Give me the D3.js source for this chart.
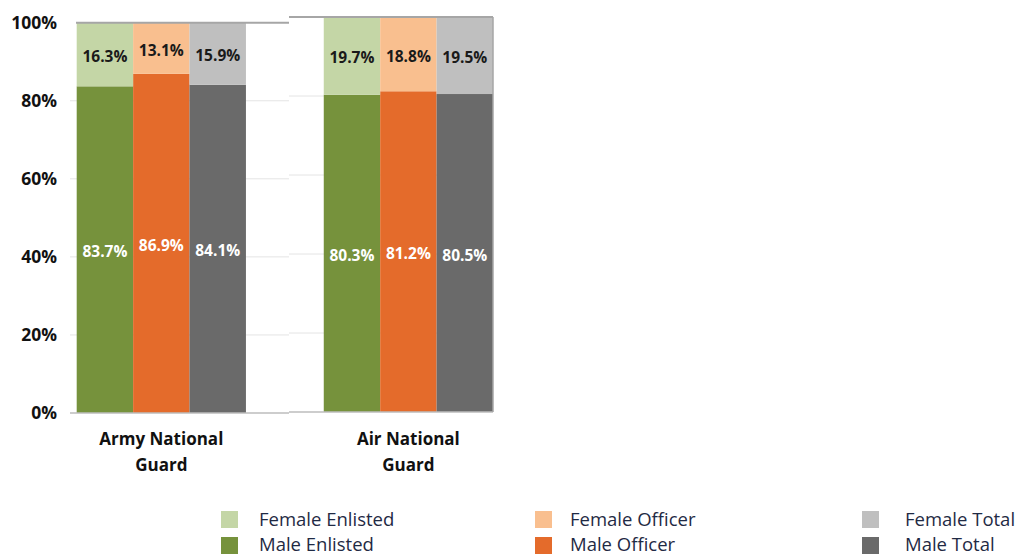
<!DOCTYPE html>
<html>
<head>
<meta charset="utf-8">
<script src="https://cdn.jsdelivr.net/npm/d3@7"></script>
<style>
  body { margin: 0; background: #fff; }
  svg { font-family: "Open Sans", Lato, sans-serif; }
</style>
</head>
<body>
<script>
const groups = ["Army National Guard", "Air National Guard"];
const series = ["Enlisted", "Officer", "Total"];
const maleValues = [[83.7, 86.9, 84.1], [80.3, 81.2, 80.5]];
const femaleValues = [[16.3, 13.1, 15.9], [19.7, 18.8, 19.5]];
const yTicks = [0, 20, 40, 60, 80, 100];
const legendItems = ["Female Enlisted", "Female Officer", "Female Total",
                     "Male Enlisted", "Male Officer", "Male Total"];

const femaleColors = ["#c4d6a6", "#f9bf8f", "#bfbfbf"];
const maleColors = ["#76923c", "#e46b2b", "#6a6a6a"];

const width = 1021, height = 557;

const svg = d3.select("body").append("svg")
    .attr("width", width)
    .attr("height", height);

// the two halves of the picture sit at slightly different heights
const panels = [
    {x0: 70, x1: 289, y0: 413, y1: 22.7},
    {x0: 289, x1: 493, y0: 412, y1: 17}
];

let x = d3.scaleBand()
    .domain(groups)
    .range([76.7, 493])
    .paddingInner(0.315)
    .paddingOuter(0);

groups.forEach((g, gi) => {
    let p = panels[gi];
    let y = d3.scaleLinear().domain([0, 100]).range([p.y0, p.y1]);
    let xs = d3.scaleBand().domain(series).range([x(g), x(g) + x.bandwidth()]);

    // gridlines
    svg.append("g").selectAll("line")
        .data(yTicks.filter(t => t > 0 && t < 100))
        .enter()
        .append("line")
        .attr("x1", p.x0).attr("x2", p.x1)
        .attr("y1", d => y(d)).attr("y2", d => y(d))
        .attr("stroke", "#e4e4e4")
        .attr("stroke-width", 1);

    // male part
    svg.append("g").selectAll("rect")
        .data(maleValues[gi])
        .enter()
        .append("rect")
        .attr("x", (d, i) => xs(series[i]))
        .attr("width", xs.bandwidth())
        .attr("y", d => y(d))
        .attr("height", d => y(0) - y(d))
        .attr("fill", (d, i) => maleColors[i]);

    // female part stacked on top
    svg.append("g").selectAll("rect")
        .data(femaleValues[gi])
        .enter()
        .append("rect")
        .attr("x", (d, i) => xs(series[i]))
        .attr("width", xs.bandwidth())
        .attr("y", (d, i) => y(maleValues[gi][i] + d))
        .attr("height", (d, i) => y(maleValues[gi][i]) - y(maleValues[gi][i] + d))
        .attr("fill", (d, i) => femaleColors[i]);

    svg.append("g").selectAll("text")
        .data(maleValues[gi])
        .enter()
        .append("text")
        .attr("x", (d, i) => xs(series[i]) + xs.bandwidth() / 2)
        .attr("y", d => (y(0) + y(d)) / 2 + 7.5)
        .attr("text-anchor", "middle")
        .attr("font-size", 15.5)
        .attr("font-weight", "bold")
        .attr("fill", "#fff")
        .text(d => d.toFixed(1) + "%");

    svg.append("g").selectAll("text")
        .data(femaleValues[gi])
        .enter()
        .append("text")
        .attr("x", (d, i) => xs(series[i]) + xs.bandwidth() / 2)
        .attr("y", (d, i) => (y(maleValues[gi][i]) + y(maleValues[gi][i] + d)) / 2 + 7.5)
        .attr("text-anchor", "middle")
        .attr("font-size", 15.5)
        .attr("font-weight", "bold")
        .attr("fill", "#1a1a1a")
        .text(d => d.toFixed(1) + "%");

    // frame: top line and baseline
    svg.append("line")
        .attr("x1", p.x0 + (gi == 0 ? 6 : 0)).attr("x2", p.x1)
        .attr("y1", y(100)).attr("y2", y(100))
        .attr("stroke", "#a6a6a6").attr("stroke-width", 2);
    svg.append("line")
        .attr("x1", p.x0).attr("x2", p.x1)
        .attr("y1", y(0)).attr("y2", y(0))
        .attr("stroke", "#bdbdbd").attr("stroke-width", 1.5);
    if (gi == 1) {
        svg.append("line")
            .attr("x1", p.x1).attr("x2", p.x1)
            .attr("y1", y(100)).attr("y2", y(0))
            .attr("stroke", "#a6a6a6").attr("stroke-width", 1.5);
    }

    // y axis only on left half
    if (gi == 0) {
        let axis = svg.append("g")
            .attr("transform", "translate(" + p.x0 + ",0)")
            .call(d3.axisLeft(y).tickValues(yTicks).tickFormat(d => d + "%").tickSize(0).tickPadding(13));
        axis.select(".domain").remove();
        axis.selectAll("text")
            .attr("font-size", 17.5)
            .attr("font-weight", "bold")
            .attr("fill", "#111")
            .attr("font-family", "'Open Sans', sans-serif");
    }
});

// category labels, two lines each
let catLines = [["Army National", "Guard"], ["Air National", "Guard"]];
groups.forEach((g, gi) => {
    let t = svg.append("text")
        .attr("x", x(g) + x.bandwidth() / 2)
        .attr("y", 445)
        .attr("text-anchor", "middle")
        .attr("font-size", 17)
        .attr("font-weight", "bold")
        .attr("fill", "#111");
    catLines[gi].forEach((l, li) => {
        t.append("tspan")
            .attr("x", x(g) + x.bandwidth() / 2)
            .attr("dy", li == 0 ? 0 : 26)
            .text(l);
    });
});

// legend
const legendColors = femaleColors.concat(maleColors);
const colX = [221, 535, 862];
const textX = [259, 570, 905];
let legend = svg.append("g").selectAll("g")
    .data(legendItems)
    .enter()
    .append("g");

legend.append("rect")
    .attr("x", (d, i) => colX[i % 3])
    .attr("y", (d, i) => i < 3 ? 511 : 537)
    .attr("width", 17)
    .attr("height", 17)
    .attr("fill", (d, i) => legendColors[i]);

legend.append("text")
    .attr("x", (d, i) => textX[i % 3])
    .attr("y", (d, i) => i < 3 ? 526 : 551)
    .attr("font-size", 18.5)
    .attr("fill", "#1f2a44")
    .text(d => d);
</script>
</body>
</html>
